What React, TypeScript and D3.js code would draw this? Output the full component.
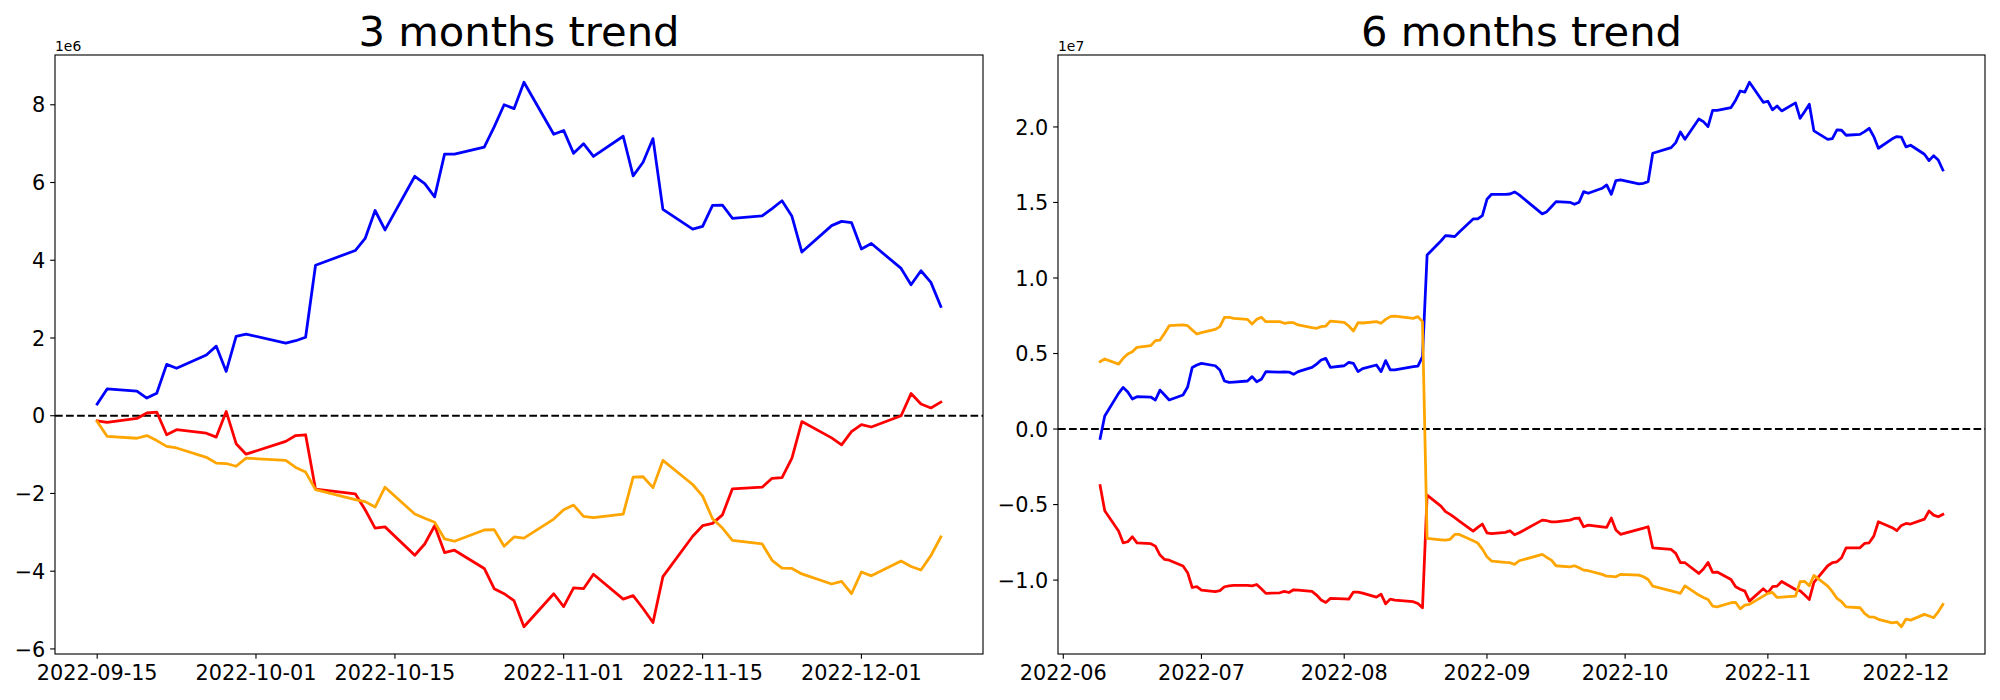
import React from 'react';
import * as d3 from 'd3';

// ---------- 3 months panel data (values in units of 1e6) ----------
const threeMonthDates = [
  '2022-09-15','2022-09-16','2022-09-19','2022-09-20','2022-09-21','2022-09-22','2022-09-23','2022-09-26','2022-09-27','2022-09-28','2022-09-29','2022-09-30',
  '2022-10-04','2022-10-05','2022-10-06','2022-10-07','2022-10-11','2022-10-12','2022-10-13','2022-10-14','2022-10-17','2022-10-18','2022-10-19','2022-10-20','2022-10-21','2022-10-24','2022-10-25','2022-10-26','2022-10-27','2022-10-28','2022-10-31',
  '2022-11-01','2022-11-02','2022-11-03','2022-11-04','2022-11-07','2022-11-08','2022-11-09','2022-11-10','2022-11-11','2022-11-14','2022-11-15','2022-11-16','2022-11-17','2022-11-18','2022-11-21','2022-11-22','2022-11-23','2022-11-24','2022-11-25','2022-11-28','2022-11-29','2022-11-30',
  '2022-12-01','2022-12-02','2022-12-05','2022-12-06','2022-12-07','2022-12-08','2022-12-09',
];
const threeMonthBlue = [
  0.30,0.69,0.635,0.455,0.58,1.32,1.22,1.56,1.79,1.14,2.04,2.10,
  1.87,1.93,2.02,3.87,4.25,4.56,5.28,4.78,6.16,5.97,5.63,6.73,6.73,6.91,7.43,8.0,7.9,8.58,7.24,
  7.34,6.75,7.0,6.67,7.19,6.17,6.52,7.13,5.31,4.80,4.87,5.41,5.42,5.08,5.14,5.33,5.53,5.13,4.21,4.89,5.0,4.97,
  4.29,4.43,3.79,3.37,3.73,3.43,2.81,
];
const threeMonthRed = [
  -0.13,-0.17,-0.07,0.07,0.095,-0.49,-0.36,-0.45,-0.55,0.11,-0.72,-0.99,
  -0.66,-0.51,-0.49,-1.89,-2.01,-2.42,-2.89,-2.86,-3.59,-3.30,-2.83,-3.52,-3.46,-3.93,-4.45,-4.58,-4.76,-5.43,-4.58,
  -4.91,-4.43,-4.45,-4.08,-4.72,-4.63,-4.96,-5.32,-4.14,-3.10,-2.83,-2.77,-2.55,-1.88,-1.84,-1.61,-1.59,-1.09,-0.15,-0.57,-0.75,-0.41,
  -0.23,-0.29,0.0,0.57,0.30,0.20,0.35,
];
const threeMonthOrange = [
  -0.15,-0.53,-0.58,-0.51,-0.64,-0.79,-0.83,-1.07,-1.22,-1.23,-1.30,-1.09,
  -1.15,-1.33,-1.45,-1.90,-2.16,-2.21,-2.35,-1.84,-2.53,-2.64,-2.74,-3.17,-3.23,-2.94,-2.93,-3.36,-3.12,-3.15,-2.66,
  -2.42,-2.30,-2.59,-2.62,-2.53,-1.58,-1.57,-1.85,-1.15,-1.77,-2.07,-2.65,-2.89,-3.21,-3.30,-3.72,-3.92,-3.93,-4.07,-4.33,-4.26,-4.58,
  -4.02,-4.12,-3.74,-3.88,-3.97,-3.60,-3.12,
];
const threeMonthXTicks = ['2022-09-15','2022-10-01','2022-10-15','2022-11-01','2022-11-15','2022-12-01'];
const threeMonthYTicks = [-6,-4,-2,0,2,4,6,8];

// ---------- 6 months panel data (values in units of 1e6) ----------
const sixMonthDates = [
  '2022-06-09','2022-06-10','2022-06-13','2022-06-14','2022-06-15','2022-06-16','2022-06-17','2022-06-20','2022-06-21','2022-06-22','2022-06-23','2022-06-24','2022-06-27','2022-06-28','2022-06-29','2022-06-30',
  '2022-07-01','2022-07-04','2022-07-05','2022-07-06','2022-07-07','2022-07-08','2022-07-11','2022-07-12','2022-07-13','2022-07-14','2022-07-15','2022-07-18','2022-07-19','2022-07-20','2022-07-21','2022-07-22','2022-07-25','2022-07-26','2022-07-27','2022-07-28','2022-07-29',
  '2022-08-01','2022-08-02','2022-08-03','2022-08-04','2022-08-05','2022-08-08','2022-08-09','2022-08-10','2022-08-11','2022-08-12','2022-08-16','2022-08-17','2022-08-18','2022-08-19','2022-08-22','2022-08-23','2022-08-24','2022-08-25','2022-08-26','2022-08-29','2022-08-30','2022-08-31',
  '2022-09-01','2022-09-02','2022-09-05','2022-09-06','2022-09-07','2022-09-08','2022-09-13','2022-09-14','2022-09-15','2022-09-16','2022-09-19','2022-09-20','2022-09-21','2022-09-22','2022-09-23','2022-09-26','2022-09-27','2022-09-28','2022-09-29','2022-09-30',
  '2022-10-04','2022-10-05','2022-10-06','2022-10-07','2022-10-11','2022-10-12','2022-10-13','2022-10-14','2022-10-17','2022-10-18','2022-10-19','2022-10-20','2022-10-21','2022-10-24','2022-10-25','2022-10-26','2022-10-27','2022-10-28','2022-10-31',
  '2022-11-01','2022-11-02','2022-11-03','2022-11-04','2022-11-07','2022-11-08','2022-11-09','2022-11-10','2022-11-11','2022-11-14','2022-11-15','2022-11-16','2022-11-17','2022-11-18','2022-11-21','2022-11-22','2022-11-23','2022-11-24','2022-11-25','2022-11-28','2022-11-29','2022-11-30',
  '2022-12-01','2022-12-02','2022-12-05','2022-12-06','2022-12-07','2022-12-08','2022-12-09',
];
const sixMonthBlue = [
  -0.62,0.86,2.36,2.76,2.45,1.99,2.14,2.12,1.92,2.58,2.25,1.92,2.25,2.78,4.08,4.24,
  4.35,4.19,3.91,3.18,3.09,3.11,3.18,3.47,3.13,3.29,3.80,3.77,3.78,3.77,3.62,3.80,4.08,4.30,4.57,4.68,4.08,
  4.19,4.42,4.35,3.80,4.0,4.24,3.80,4.53,3.91,3.91,4.13,4.17,4.79,11.52,12.45,12.80,12.78,12.74,13.05,13.91,13.91,14.13,
  15.21,15.54,15.54,15.56,15.70,15.5,14.24,14.39,14.72,15.06,15.01,14.88,15.01,15.72,15.61,15.94,16.16,15.54,16.45,16.49,
  16.23,16.27,16.38,18.26,18.63,18.96,19.67,19.18,20.53,20.35,20.02,21.10,21.10,21.28,21.77,22.38,22.30,22.96,21.63,
  21.70,21.13,21.39,21.06,21.59,20.57,21.02,21.50,19.74,19.18,19.23,19.80,19.78,19.45,19.51,19.69,19.91,19.36,18.59,19.21,19.36,19.32,
  18.68,18.79,18.19,17.77,18.10,17.81,17.15,
];
const sixMonthRed = [
  -3.75,-5.41,-6.75,-7.53,-7.46,-7.13,-7.53,-7.59,-7.75,-8.34,-8.63,-8.68,-9.07,-9.51,-10.49,-10.44,
  -10.66,-10.77,-10.70,-10.44,-10.38,-10.35,-10.35,-10.38,-10.29,-10.57,-10.88,-10.84,-10.75,-10.82,-10.64,-10.66,-10.75,-10.99,-11.32,-11.48,-11.21,
  -11.24,-11.26,-10.79,-10.79,-10.86,-11.13,-10.93,-11.57,-11.26,-11.32,-11.43,-11.55,-11.83,-4.37,-5.10,-5.47,-5.65,-5.87,-6.09,-6.76,-6.51,-6.29,
  -6.87,-6.93,-6.84,-6.73,-7.0,-6.87,-6.03,-6.07,-6.14,-6.14,-6.03,-5.92,-5.89,-6.47,-6.36,-6.47,-6.51,-5.89,-6.69,-6.97,
  -6.64,-6.56,-6.47,-7.86,-7.97,-8.23,-8.85,-8.85,-9.56,-9.27,-8.83,-9.49,-9.47,-9.96,-10.44,-10.60,-10.73,-11.39,-10.57,
  -10.84,-10.44,-10.40,-10.09,-10.62,-10.71,-10.99,-11.28,-10.15,-9.05,-8.85,-8.79,-8.52,-7.86,-7.86,-7.57,-7.53,-7.09,-6.14,-6.53,-6.73,-6.38,
  -6.25,-6.29,-5.96,-5.43,-5.70,-5.81,-5.65,
];
const sixMonthOrange = [
  4.46,4.64,4.30,4.68,4.97,5.12,5.41,5.52,5.85,5.89,6.34,6.84,6.89,6.84,6.56,6.29,
  6.38,6.60,6.78,7.40,7.40,7.33,7.26,6.95,7.26,7.40,7.11,7.11,7.00,7.04,7.04,6.89,6.71,6.67,6.78,6.82,7.15,
  7.06,6.82,6.49,7.04,7.02,7.11,7.00,7.26,7.44,7.48,7.33,7.44,7.11,-7.24,-7.33,-7.36,-7.30,-6.98,-6.98,-7.40,-7.55,-7.95,
  -8.45,-8.74,-8.83,-8.85,-8.96,-8.72,-8.30,-8.50,-8.68,-9.05,-9.12,-9.05,-9.18,-9.34,-9.38,-9.62,-9.74,-9.76,-9.78,-9.62,
  -9.67,-9.78,-9.96,-10.40,-10.71,-10.79,-10.88,-10.38,-10.99,-11.15,-11.28,-11.72,-11.77,-11.50,-11.48,-11.90,-11.66,-11.61,-11.06,
  -10.88,-10.82,-11.15,-11.13,-11.06,-10.11,-10.09,-10.38,-9.69,-10.40,-10.77,-11.21,-11.43,-11.77,-11.83,-12.21,-12.43,-12.45,-12.60,-12.83,-12.78,-13.09,
  -12.58,-12.65,-12.27,-12.38,-12.49,-12.10,-11.61,
];
const sixMonthXTicks = ['2022-06-01','2022-07-01','2022-08-01','2022-09-01','2022-10-01','2022-11-01','2022-12-01'];
const sixMonthYTicks = [-10,-5,0,5,10,15,20];

const seriesColors = ['blue', 'red', 'orange'];

const FONT = '"DejaVu Sans", sans-serif';
const parse = d3.utcParse('%Y-%m-%d');
const minus = (s: string) => s.replace('-', '\u2212');

function padded(lo: number, hi: number): [number, number] {
  const m = (hi - lo) * 0.05;
  return [lo - m, hi + m];
}

type PanelProps = {
  box: { x0: number; x1: number; y0: number; y1: number };
  title: string;
  dates: string[];
  series: number[][];
  xTicks: string[];
  xFmt: (d: Date) => string;
  yTicks: number[];
  yFmt: (v: number) => string;
  offsetText: string;
};

function Panel({ box, title, dates, series, xTicks, xFmt, yTicks, yFmt, offsetText }: PanelProps) {
  const { x0, x1, y0, y1 } = box;
  const ds = dates.map((s) => parse(s) as Date);
  const tExt = d3.extent(ds) as [Date, Date];
  const span = +tExt[1] - +tExt[0];
  const x = d3.scaleUtc()
    .domain([new Date(+tExt[0] - span * 0.05), new Date(+tExt[1] + span * 0.05)])
    .range([x0, x1]);
  const all = series.flat();
  const y = d3.scaleLinear().domain(padded(d3.min(all)!, d3.max(all)!)).range([y1, y0]);
  const line = d3.line<number>().x((_, i) => x(ds[i])).y((v) => y(v));
  const tickLen = 4.86;
  return (
    <g>
      <text x={(x0 + x1) / 2} y={y0 - 9} textAnchor="middle" fontFamily={FONT} fontSize={41.7} fill="black">
        {title}
      </text>
      <line x1={x0} x2={x1} y1={y(0)} y2={y(0)} stroke="black" strokeWidth={2.08} strokeDasharray="7.7 3.33" />
      {series.map((vals, i) => (
        <path key={i} d={line(vals) || ''} fill="none" stroke={seriesColors[i]} strokeWidth={2.78} strokeLinejoin="round" strokeLinecap="square" />
      ))}
      <rect x={x0} y={y0} width={x1 - x0} height={y1 - y0} fill="none" stroke="black" strokeWidth={1.11} />
      {xTicks.map((t) => {
        const d = parse(t) as Date;
        const px = x(d);
        return (
          <g key={t}>
            <line x1={px} x2={px} y1={y1} y2={y1 + tickLen} stroke="black" strokeWidth={1.11} />
            <text x={px} y={y1 + 26} textAnchor="middle" fontFamily={FONT} fontSize={20.8} fill="black">
              {xFmt(d)}
            </text>
          </g>
        );
      })}
      {yTicks.map((t) => {
        const py = y(t);
        return (
          <g key={t}>
            <line x1={x0 - tickLen} x2={x0} y1={py} y2={py} stroke="black" strokeWidth={1.11} />
            <text x={x0 - 9.7} y={py + 7.6} textAnchor="end" fontFamily={FONT} fontSize={20.8} fill="black">
              {yFmt(t)}
            </text>
          </g>
        );
      })}
      <text x={x0} y={y0 - 4.5} fontFamily={FONT} fontSize={13.9} fill="black">
        {offsetText}
      </text>
    </g>
  );
}

export default function App() {
  return (
    <svg width={2000} height={700} viewBox="0 0 2000 700" style={{ position: 'absolute', left: 0, top: 0, background: 'white' }}>
      <rect x={0} y={0} width={2000} height={700} fill="white" />
      <Panel
        box={{ x0: 55, x1: 983, y0: 55, y1: 654 }}
        title="3 months trend"
        dates={threeMonthDates}
        series={[threeMonthBlue, threeMonthRed, threeMonthOrange]}
        xTicks={threeMonthXTicks}
        xFmt={d3.utcFormat('%Y-%m-%d')}
        yTicks={threeMonthYTicks}
        yFmt={(v) => minus(String(v))}
        offsetText="1e6"
      />
      <Panel
        box={{ x0: 1058, x1: 1985, y0: 55, y1: 654 }}
        title="6 months trend"
        dates={sixMonthDates}
        series={[sixMonthBlue, sixMonthRed, sixMonthOrange]}
        xTicks={sixMonthXTicks}
        xFmt={d3.utcFormat('%Y-%m')}
        yTicks={sixMonthYTicks}
        yFmt={(v) => minus((v / 10).toFixed(1))}
        offsetText="1e7"
      />
    </svg>
  );
}
